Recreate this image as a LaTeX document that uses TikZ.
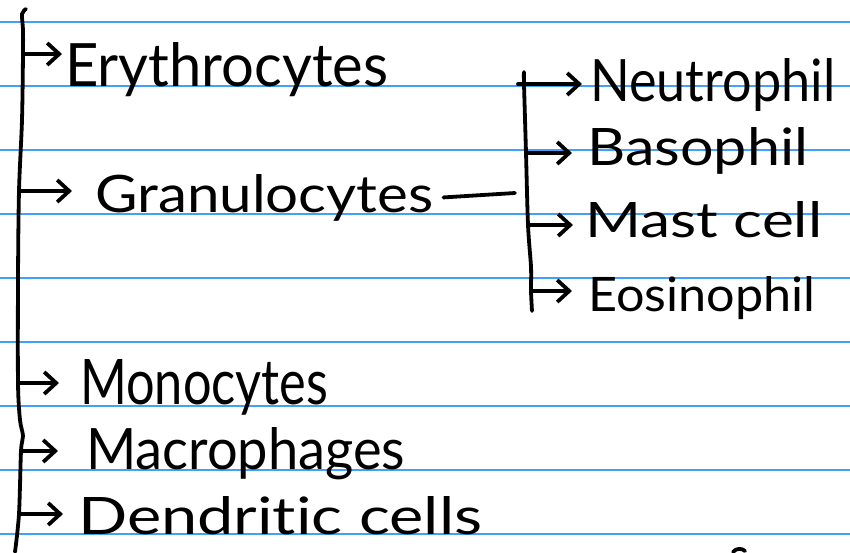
\documentclass[tikz,border=0pt]{standalone}
\usepackage{fontspec}
\setmainfont{Lato}[Ligatures=NoCommon]
\usetikzlibrary{arrows.meta}
\definecolor{ruleblue}{RGB}{66,160,250}
\newcommand{\hand}[3]{\resizebox{#1pt}{#2pt}{#3}}

\begin{document}
\begin{tikzpicture}[x=1pt, y=-1pt,
  ruling/.style={draw=ruleblue, line width=1.5pt},
  ink/.style={line width=3.8pt, line cap=round, line join=round},
  inkarrow/.style={ink, -{Straight Barb[length=12pt,width=22pt]}},
  cell/.style={anchor=base west, inner sep=0pt}]
\useasboundingbox (0,0) rectangle (850,552);
\fill[white] (0,0) rectangle (850,552);
\foreach \k in {0,...,8}
  \draw[ruling] (0,22+64*\k) -- (850,22+64*\k);

\node (ery) [cell] at (65,86) {\hand{323}{44}{Erythrocytes}};
\node (gran) [cell] at (95,212) {\hand{338}{38}{Granulocytes}};
\node (mono) [cell] at (80,404) {\hand{248}{45}{Monocytes}};
\node (macro) [cell] at (86,469) {\hand{319}{42}{Macrophages}};
\node (dend) [cell] at (78,534) {\hand{404}{38}{Dendritic cells}};

\node (neut) [cell] at (590,101) {\hand{245}{43}{Neutrophil}};
\node (baso) [cell] at (587,165) {\hand{221}{38}{Basophil}};
\node (mast) [cell] at (585,237) {\hand{237}{36}{Mast cell}};
\node (eosi) [cell] at (588,311) {\hand{227}{35}{Eosinophil}};

\coordinate (m1) at (23,54);
\coordinate (m2) at (19,191);
\coordinate (m3) at (18,383);
\coordinate (m4) at (21,451);
\coordinate (m5) at (19,514);
\draw[ink] plot[smooth] coordinates {(26,9) (22,14) (23,30) (m1) (22,120) (m2) (18,280) (m3) (20,420) (23,436) (m4) (m5) (15,552)};

\coordinate (s1) at (524,84);
\coordinate (s2) at (526,153);
\coordinate (s3) at (528,225);
\coordinate (s4) at (531,291);
\draw[ink] plot[smooth] coordinates {(524,72) (s1) (s2) (s3) (531,267) (s4) (532,311)};

\coordinate (gend) at (515,193);
\draw[ink] ([xshift=10pt]gran.east) -- (gend);

\draw[inkarrow, shorten >=3pt] (m1) -- (m1 -| ery.west);
\draw[inkarrow, shorten >=23pt] (m2) -- (m2 -| gran.west);
\draw[inkarrow, shorten >=21pt] (m3) -- (m3 -| mono.west);
\draw[inkarrow, shorten >=28pt] (m4) -- (m4 -| macro.west);
\draw[inkarrow, shorten >=15pt] (m5) -- (m5 -| dend.west);

\draw[inkarrow, shorten >=8pt] ([xshift=-6pt]s1) -- (s1 -| neut.west);
\draw[inkarrow, shorten >=15pt] (s2) -- (s2 -| baso.west);
\draw[inkarrow, shorten >=12pt] (s3) -- (s3 -| mast.west);
\draw[inkarrow, shorten >=16pt] (s4) -- (s4 -| eosi.west);

\draw[ink] (733,552) .. controls (736,548) and (742,548) .. (745,551);
\end{tikzpicture}
\end{document}
